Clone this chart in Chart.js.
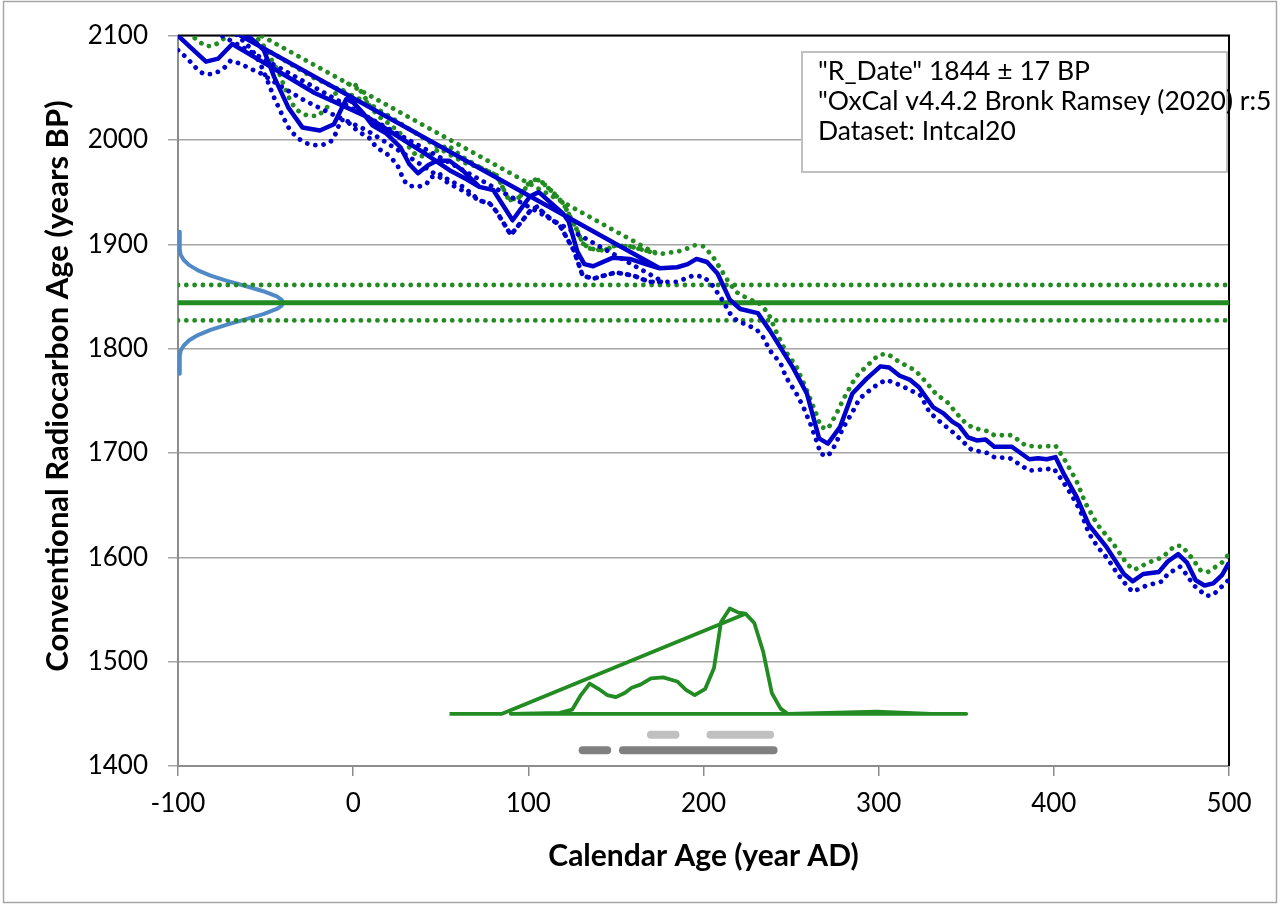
<!DOCTYPE html>
<html><head><meta charset="utf-8">
<script src="https://cdn.jsdelivr.net/npm/chart.js@4.4.1/dist/chart.umd.min.js"></script>
<style>html,body{margin:0;padding:0;background:#fff;overflow:hidden}</style>
</head><body>
<canvas id="c" width="1280" height="906"></canvas>
<script>
// ---- axis ticks ----
const xTicks = [-100, 0, 100, 200, 300, 400, 500];
const yTicks = [1400, 1500, 1600, 1700, 1800, 1900, 2000, 2100];

// ---- calibration curve (IntCal20), solid = mean, in drawing order ----
const curveX = [-100,-93,-84,-77,-69,-53,-38,-22,-10,8,25,40,55,65,
  72,80,91,101,106,120,123,128,132,137,148,158,167,175,
  -75,
  -67,-60,-51,-45,-37,-29,-19,-11,-4,0,6,11,19,27,32,37,43,48,55,63,
  72,80,91,101,106,120,123,128,132,137,148,158,167,175,
  185,191,196,202,208,215,221,231,238,251,259,266,271,278,285,293,301,306,312,318,323,331,337,342,346,351,356,361,366,376,386,391,396,401,406,413,420,430,440,445,451,460,465,471,476,481,486,491,496,500];
const curveY = [2100,2089,2075,2078,2092,2076,2061,2045,2036,2022,2004,1988,1971,1962,
  1955,1952,1923,1946,1950,1929,1922,1893,1881,1879,1887,1886,1881,1877,
  2110,
  2113,2100,2086,2060,2031,2012,2009,2015,2039,2036,2025,2014,2006,1993,1977,1968,1976,1980,1980,1970,
  1955,1952,1923,1946,1950,1929,1922,1893,1881,1879,1887,1886,1881,1877,
  1878,1881,1886,1883,1872,1847,1838,1834,1817,1782,1757,1714,1709,1725,1757,1771,1783,1782,1774,1770,1763,1744,1738,1730,1726,1715,1712,1713,1706,1706,1694,1695,1694,1696,1679,1658,1631,1610,1584,1577,1584,1586,1596,1603,1595,1578,1573,1575,1583,1595];

// upper (+1 sigma) curve
const upperX = [-100,-96,-92,-88,-84,-80,-76,-72,-69,-61,-53,-38,-22,-10,8,25,40,55,65,
  72,82,89,95,100,104,107,110,114,120,124,128,131,135,143,150,158,167,173,
  -85,
  -62,-56,-51,-48,-45,-42,-39,-36,-33,-29,-25,-20,-15,-11,-6,-2,2,6,10,15,21,27,32,36,42,48,54,63,
  72,82,89,95,100,104,107,110,114,120,124,128,131,135,143,150,158,167,
  177,188,195,200,205,211,215,219,223,228,231,237,241,247,253,259,264,267,271,276,280,287,293,300,305,312,321,327,333,339,346,350,354,362,366,376,380,384,392,401,406,413,418,425,434,442,446,454,462,469,473,479,484,488,496,500];
const upperY = [2115,2106,2100,2094,2090,2090,2094,2100,2106,2098,2090,2075,2059,2050,2036,2018,2002,1986,1977,
  1974,1966,1942,1945,1958,1962,1961,1956,1950,1939,1926,1913,1901,1896,1894,1899,1898,1894,1891,
  2130,
  2115,2100,2090,2081,2072,2063,2050,2038,2030,2025,2023,2023,2031,2044,2047,2055,2052,2043,2031,2022,2015,2006,1993,1985,1984,1990,1995,1983,
  1974,1966,1942,1945,1958,1962,1961,1956,1950,1939,1926,1913,1901,1896,1894,1899,1898,1894,
  1891,1894,1899,1898,1889,1873,1862,1854,1850,1846,1845,1834,1818,1797,1783,1760,1739,1725,1723,1738,1752,1773,1783,1794,1795,1787,1779,1768,1756,1749,1735,1728,1724,1721,1717,1717,1712,1707,1706,1707,1694,1673,1652,1631,1613,1593,1588,1595,1600,1611,1611,1599,1587,1586,1595,1603];

// lower (-1 sigma) curve
const lowerX = [-100,-99,-95,-92,-88,-85,-81,-76,-73,-70,-66,-62,-57,-53,-37,-28,-22,-10,8,25,40,55,63,
  72,78,82,90,101,105,110,118,126,131,137,141,150,160,169,177,
  -90,
  -70,-66,-58,-53,-49,-45,-40,-36,-31,-27,-23,-18,-13,-10,-7,-4,0,5,10,13,19,25,29,32,37,42,44,50,55,63,
  72,78,82,90,101,105,110,118,126,131,137,141,150,160,169,177,
  185,194,200,205,211,215,219,226,231,234,238,244,247,253,257,261,264,267,271,274,280,285,289,297,304,308,316,324,329,335,343,353,362,366,375,386,391,400,405,410,415,420,425,431,436,442,445,453,462,465,472,475,480,487,491,499,500];
const lowerY = [2086,2084,2079,2073,2066,2063,2063,2066,2070,2076,2074,2071,2067,2064,2047,2038,2033,2023,2009,1991,1975,1958,1951,
  1942,1939,1931,1909,1932,1936,1928,1918,1894,1870,1867,1869,1873,1870,1864,1864,
  2114,
  2106,2100,2087,2073,2057,2040,2022,2009,2001,1997,1995,1995,1998,2006,2019,2019,2012,2006,2001,1993,1987,1977,1961,1956,1955,1958,1964,1967,1961,1955,
  1942,1939,1931,1909,1932,1936,1928,1918,1894,1870,1867,1869,1873,1870,1864,1864,
  1864,1870,1869,1861,1846,1834,1827,1822,1817,1811,1798,1786,1773,1757,1744,1728,1714,1699,1697,1704,1725,1739,1752,1763,1770,1768,1762,1755,1739,1730,1719,1703,1700,1696,1695,1683,1684,1685,1673,1660,1645,1623,1610,1598,1585,1572,1567,1573,1577,1584,1591,1585,1573,1563,1564,1577,1579];

// ---- radiocarbon measurement: 1844 ± 17 BP ----
const measuredAge = [1844];
const measuredSigma = [17];
const levelSpan = [-100, 500];

// measurement probability (drawn on the y axis)
const probY = [1912,1905,1900,1895,1890,1885,1880,1875,1870,1865,1860,1855,1850,1847,1844,1841,1838,1833,1828,1823,1818,1813,1808,1803,1798,1793,1788,1783,1776];
const probX = [-99,-99,-99,-99,-98.5,-96.7,-93.6,-88.6,-81.4,-72,-61.5,-51.3,-43.6,-40.9,-40,-40.9,-43.6,-51.3,-61.5,-72,-81.4,-88.6,-93.6,-96.7,-98.5,-99,-99,-99,-99];

// calibrated distribution (drawn at the bottom), in drawing order
const calX = [55,85,224,229,234,239,244,248,299,330,350,90,118,125,130,135,140,145,150,155,159,164,170,177,185,190,195,201,206,210,215,220,224];
const calY = [1450,1450,1546,1537,1510,1470,1455,1450,1452,1450,1450,1450,1451,1454,1468,1479,1474,1468,1466,1470,1475,1478,1484,1485,1481,1473,1468,1474,1494,1538,1551,1547,1546];

// calibrated ranges
const range68Start = [170, 204];
const range68End = [184, 238];
const range68Level = 1430;
const range95Start = [131, 154];
const range95End = [145, 240];
const range95Level = 1415;

const legendLines = ['"R_Date" 1844 \u00B1 17 BP', '"OxCal v4.4.2 Bronk Ramsey (2020) r:5', 'Dataset: Intcal20'];
const xTitle = 'Calendar Age (year AD)';
const yTitle = 'Conventional Radiocarbon Age (years BP)';

// ---- build ----
const BLUE = '#0000CC', GREEN = '#228B22', STEEL = '#4F8AC6';
const pts = (xs, ys) => xs.map((x, i) => ({x: x, y: ys[i]}));
const base = {showLine: true, pointRadius: 0, fill: false, tension: 0, clip: 0, borderJoinStyle: 'round'};
const DOT = [0.01, 8.3];

const datasets = [];
datasets.push(Object.assign({}, base, {data: pts(curveX, curveY), borderColor: BLUE, borderWidth: 4.5}));
datasets.push(Object.assign({}, base, {data: pts(lowerX, lowerY), borderColor: BLUE, borderWidth: 4.8, borderDash: DOT, borderCapStyle: 'round'}));
datasets.push(Object.assign({}, base, {data: pts(upperX, upperY), borderColor: GREEN, borderWidth: 4.8, borderDash: DOT, borderCapStyle: 'round'}));
datasets.push(Object.assign({}, base, {data: pts(levelSpan, [measuredAge[0], measuredAge[0]]), borderColor: GREEN, borderWidth: 5}));
datasets.push(Object.assign({}, base, {data: pts(levelSpan, [measuredAge[0] + measuredSigma[0], measuredAge[0] + measuredSigma[0]]), borderColor: GREEN, borderWidth: 4.8, borderDash: DOT, borderCapStyle: 'round'}));
datasets.push(Object.assign({}, base, {data: pts(levelSpan, [measuredAge[0] - measuredSigma[0], measuredAge[0] - measuredSigma[0]]), borderColor: GREEN, borderWidth: 4.8, borderDash: DOT, borderCapStyle: 'round'}));
datasets.push(Object.assign({}, base, {data: pts(probX, probY), borderColor: STEEL, borderWidth: 4, clip: 4}));
datasets.push(Object.assign({}, base, {data: pts(calX, calY), borderColor: GREEN, borderWidth: 3.8}));
range68Start.forEach((s, i) => datasets.push(Object.assign({}, base, {data: pts([s, range68End[i]], [range68Level, range68Level]), borderColor: '#C0C0C0', borderWidth: 8, borderCapStyle: 'round'})));
range95Start.forEach((s, i) => datasets.push(Object.assign({}, base, {data: pts([s, range95End[i]], [range95Level, range95Level]), borderColor: '#808080', borderWidth: 8, borderCapStyle: 'round'})));

const FONT = 'Lato';
const framePlugin = {
  id: 'frame',
  beforeDraw(chart) {
    const c = chart.ctx; c.save(); c.fillStyle = '#fff'; c.fillRect(0, 0, chart.width, chart.height); c.restore();
  },
  beforeDatasetsDraw(chart) {
    const c = chart.ctx, a = chart.chartArea;
    c.save(); c.strokeStyle = '#000'; c.lineWidth = 2;
    c.beginPath(); c.moveTo(a.left, a.top); c.lineTo(a.right, a.top); c.lineTo(a.right, a.bottom); c.stroke();
    c.restore();
  },
  afterDraw(chart) {
    const c = chart.ctx, a = chart.chartArea;
    c.save();
    // axis titles
    c.fillStyle = '#000';
    c.textAlign = 'center'; c.textBaseline = 'middle';
    c.font = 'bold 30px ' + FONT;
    c.fillText(xTitle, (a.left + a.right) / 2, 856);
    c.font = 'bold 31px ' + FONT;
    c.save(); c.translate(58, 386); c.rotate(-Math.PI / 2); c.fillText(yTitle, 0, 0); c.restore();
    // legend box
    c.fillStyle = '#fff'; c.fillRect(802, 52, 425, 120);
    c.strokeStyle = '#BFBFBF'; c.lineWidth = 2; c.strokeRect(802, 52, 425, 120);
    c.fillStyle = '#000'; c.font = '26.5px ' + FONT; c.textAlign = 'left'; c.textBaseline = 'alphabetic';
    legendLines.forEach((t, i) => c.fillText(t, 818, 80 + i * 30));
    // outer border
    c.strokeStyle = '#A6A6A6'; c.lineWidth = 1.5;
    c.strokeRect(3.5, 1.5, 1273, 901);
    c.restore();
  }
};

new Chart(document.getElementById('c').getContext('2d'), {
  type: 'scatter',
  data: {datasets: datasets},
  options: {
    responsive: false, animation: false, devicePixelRatio: 1,
    layout: {padding: {top: 35, right: 51, left: 0, bottom: 0}},
    plugins: {legend: {display: false}, tooltip: {enabled: false}},
    events: [],
    scales: {
      x: {
        type: 'linear', min: -100, max: 500,
        afterFit(s) { s.height = 140; },
        afterBuildTicks(s) { s.ticks = xTicks.map(v => ({value: v})); },
        grid: {drawOnChartArea: false, drawTicks: true, tickLength: 10, color: '#8C8C8C', lineWidth: 1.5},
        border: {color: '#8C8C8C', width: 2},
        ticks: {font: {family: FONT, size: 26}, color: '#000', padding: 12, maxRotation: 0, callback: v => String(v)}
      },
      y: {
        type: 'linear', min: 1400, max: 2100,
        afterFit(s) { s.width = 178; },
        afterBuildTicks(s) { s.ticks = yTicks.map(v => ({value: v})); },
        grid: {drawOnChartArea: true, drawTicks: true, tickLength: 10, color: '#A6A6A6', lineWidth: 1.5},
        border: {color: '#8C8C8C', width: 2},
        ticks: {font: {family: FONT, size: 26}, color: '#000', padding: 20, callback: v => String(v)}
      }
    }
  },
  plugins: [framePlugin]
});
</script>
</body></html>
